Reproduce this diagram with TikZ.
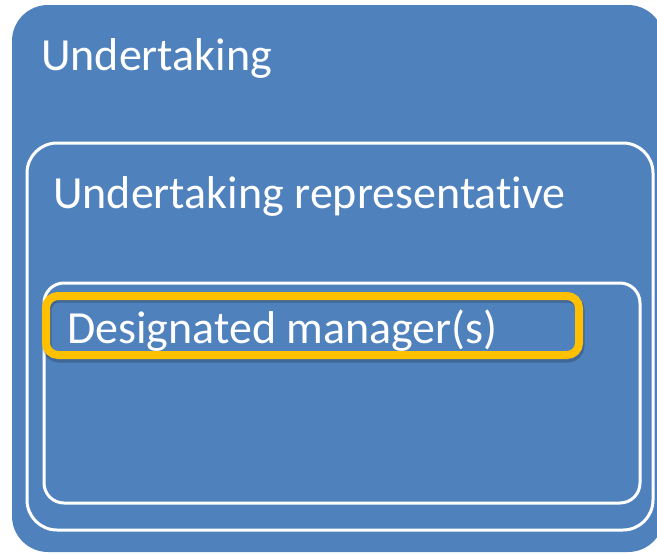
\documentclass[tikz,border=0pt]{standalone}
\usepackage{fontspec}
\setmainfont[Ligatures=NoCommon]{Carlito}
\definecolor{boxblue}{HTML}{4F81BD}
\definecolor{markorange}{HTML}{FFC000}
\tikzset{
  label text/.style={anchor=base west, inner sep=0pt, text=white, font=\fontsize{46}{50}\selectfont},
  frame line/.style={draw=white, line width=3pt}
}
\begin{document}
\begin{tikzpicture}[x=1pt, y=-1pt]
        \useasboundingbox (0,0) rectangle (657,555);
        \clip (0,0) rectangle (657,555);

        % Boxes
        \fill[boxblue, rounded corners=36pt] (12,5) rectangle (664,552);
        \draw[frame line, rounded corners=30pt] (27,143) rectangle (653,530);
        \draw[frame line, rounded corners=20pt] (44,283) rectangle (640,503);

        % Highlight
        \draw[black, opacity=0.2, line width=9pt, rounded corners=12pt] (47,298) rectangle (580,358);
        \draw[markorange, line width=8pt, rounded corners=12pt] (46,296) rectangle (579,355);

        % Labels
        \node (undertaking) [label text] at (41,70) {Undertaking};
        \node (representative) [label text] at (53,208) {Undertaking representative};
        \node (manager) [label text] at (67,343) {Designated manager(s)};
    \end{tikzpicture}
\end{document}
